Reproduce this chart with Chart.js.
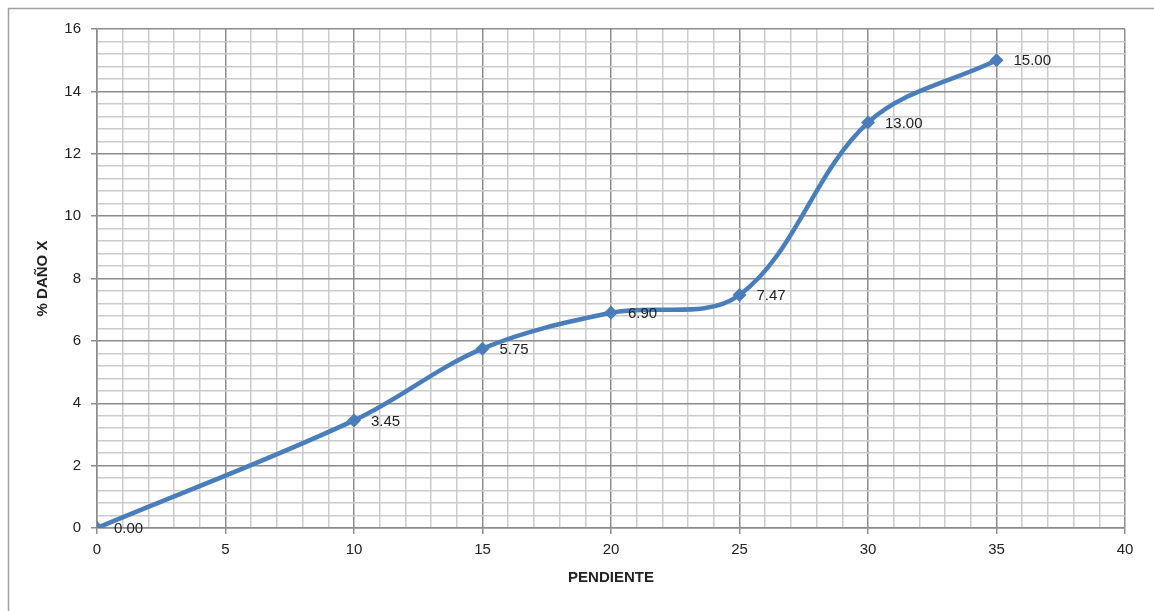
<!DOCTYPE html>
<html>
<head>
<meta charset="utf-8">
<script src="https://cdn.jsdelivr.net/npm/chart.js@4.4.0/dist/chart.umd.min.js"></script>
<style>
  html, body { margin: 0; padding: 0; background: #fff; }
  #wrap { width: 1154px; height: 611px; position: relative; }
</style>
</head>
<body>
<div id="wrap"><canvas id="myChart" width="1154" height="611"></canvas></div>
<script>
// Chart data
const pendiente = [0, 10, 15, 20, 25, 30, 35];
const dano = [0.00, 3.45, 5.75, 6.90, 7.47, 13.00, 15.00];
const xTicks = [0, 5, 10, 15, 20, 25, 30, 35, 40];
const yTicks = [0, 2, 4, 6, 8, 10, 12, 14, 16];

const lineColor = '#4a7ebb';
const fontFamily = '"Liberation Sans", Arial, sans-serif';

const isMajor = (v, list) => list.some(t => Math.abs(t - v) < 1e-6);

// Draws the outer frame (only top and left are visible in the picture)
const framePlugin = {
    id: 'frame',
    beforeDraw(chart) {
        const c = chart.ctx;
        c.save();
        c.fillStyle = '#fff';
        c.fillRect(0, 0, chart.width, chart.height);
        c.strokeStyle = '#a0a0a0';
        c.lineWidth = 1.5;
        c.beginPath();
        c.moveTo(8.5, chart.height);
        c.lineTo(8.5, 8.5);
        c.lineTo(chart.width, 8.5);
        c.stroke();
        c.restore();
    }
};

// Value labels to the right of each point
const valueLabels = {
    id: 'valueLabels',
    afterDatasetsDraw(chart) {
        const c = chart.ctx;
        const meta = chart.getDatasetMeta(0);
        c.save();
        c.font = '15px ' + fontFamily;
        c.fillStyle = '#222';
        c.textAlign = 'left';
        c.textBaseline = 'middle';
        meta.data.forEach((pt, i) => {
            c.fillText(dano[i].toFixed(2), pt.x + 17, pt.y + 1);
        });
        c.restore();
    }
};

const ctx = document.getElementById('myChart');

const chart = new Chart(ctx, {
    type: 'line',
    data: {
        datasets: [{
            data: pendiente.map((x, i) => ({ x: x, y: dano[i] })),
            borderColor: lineColor,
            backgroundColor: lineColor,
            borderWidth: 4.5,
            tension: 0.35,
            pointStyle: 'rectRot',
            pointRadius: 7,
            pointBorderWidth: 0,
            fill: false,
        }]
    },
    options: {
        responsive: false,
        animation: false,
        plugins: {
            legend: { display: false },
            tooltip: { enabled: false },
        },
        layout: { padding: { left: 0, top: 29, right: 29, bottom: 0 } },
        scales: {
            x: {
                type: 'linear',
                min: 0,
                max: 40,
                ticks: {
                    stepSize: 1,
                    autoSkip: false,
                    maxRotation: 0,
                    color: '#222',
                    font: { family: fontFamily, size: 15 },
                    padding: 7,
                    callback: (v) => isMajor(v, xTicks) ? String(v) : '',
                },
                grid: {
                    color: (c) => isMajor(c.tick.value, xTicks) ? '#8c8c8c' : '#cbcbcb',
                    lineWidth: 1.5,
                    tickLength: 6,
                    tickColor: (c) => isMajor(c.tick.value, xTicks) ? '#8c8c8c' : 'rgba(0,0,0,0)',
                },
                border: { color: '#8c8c8c', width: 1.5 },
                title: {
                    display: true,
                    text: 'PENDIENTE',
                    color: '#222',
                    font: { family: fontFamily, size: 15, weight: 'bold' },
                    padding: { top: 0, bottom: 24 },
                },
                afterFit: (s) => { s.height = 611 - 528; },
            },
            y: {
                type: 'linear',
                min: 0,
                max: 16,
                ticks: {
                    stepSize: 0.4,
                    autoSkip: false,
                    color: '#222',
                    font: { family: fontFamily, size: 15 },
                    padding: 10,
                    callback: (v) => isMajor(v, yTicks) ? String(Math.round(v)) : '',
                },
                grid: {
                    color: (c) => isMajor(c.tick.value, yTicks) ? '#8c8c8c' : '#cbcbcb',
                    lineWidth: 1.5,
                    tickLength: 6,
                    tickColor: (c) => isMajor(c.tick.value, yTicks) ? '#8c8c8c' : 'rgba(0,0,0,0)',
                },
                border: { color: '#8c8c8c', width: 1.5 },
                title: {
                    display: true,
                    text: '% DAÑO X',
                    color: '#222',
                    font: { family: fontFamily, size: 15, weight: 'bold' },
                    padding: { top: 34, bottom: 0 },
                },
                afterFit: (s) => { s.width = 97; },
            }
        }
    },
    plugins: [framePlugin, valueLabels]
});
</script>
</body>
</html>
